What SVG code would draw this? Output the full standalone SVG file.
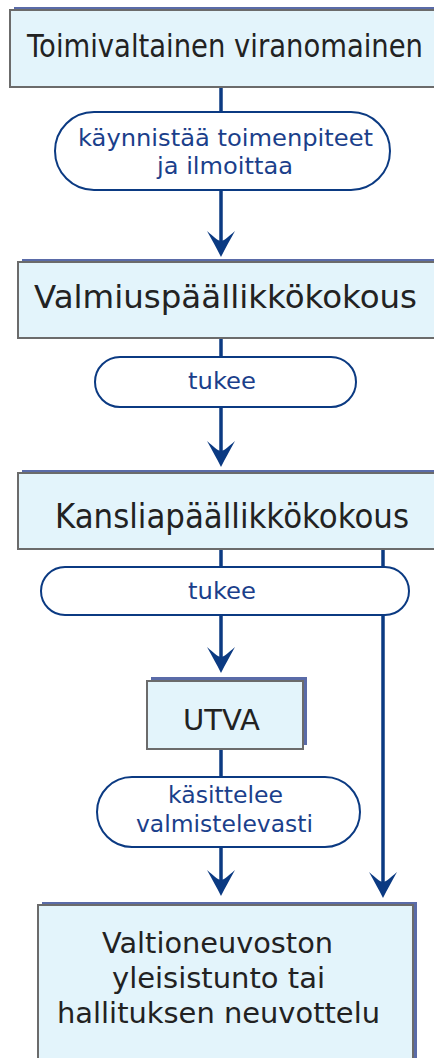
<svg xmlns="http://www.w3.org/2000/svg" width="434" height="1058" viewBox="0 0 434 1058">
<defs>
<style>
.shadow{fill:#5A6BA8;}
.box{fill:#E3F4FB;stroke:#6B6B6B;stroke-width:2;}
.pill{fill:#FFFFFF;stroke:#0B3A82;stroke-width:2;}
.conn{fill:none;stroke:#0B3A82;stroke-width:3.5;}
.bt{font-family:"DejaVu Sans",Verdana,sans-serif;fill:#222222;}
.pt{font-family:"DejaVu Sans",Verdana,sans-serif;fill:#1B3F8B;font-size:23px;}
</style>
<marker id="arr" markerUnits="userSpaceOnUse" viewBox="-27 -15 28 30" refX="-12" refY="0" markerWidth="28" markerHeight="30" orient="auto">
<path d="M0,0 C-8,-4 -17,-9 -26,-14 C-20,-7 -16,-3 -16,0 C-16,3 -20,7 -26,14 C-17,9 -8,4 0,0Z" fill="#0B3A82"/>
</marker>
</defs>
<rect width="434" height="1058" fill="#FFFFFF"/>
<g id="connectors">
<path class="conn" d="M221,87 V245" marker-end="url(#arr)"/>
<path class="conn" d="M221,338 V455" marker-end="url(#arr)"/>
<path class="conn" d="M221,549 V661" marker-end="url(#arr)"/>
<path class="conn" d="M221,749 V884" marker-end="url(#arr)"/>
<path class="conn" d="M383,549 V886" marker-end="url(#arr)"/>
</g>
<g id="node-toimivaltainen">
<rect class="shadow" x="14" y="7" width="440" height="77"/>
<rect class="box" x="10" y="10" width="440" height="77"/>
<g transform="translate(27,57) scale(1,1.18)">
<text class="bt" x="0" y="0" font-size="27" textLength="396" lengthAdjust="spacingAndGlyphs">Toimivaltainen viranomainen</text>
</g>
</g>
<g id="pill-kaynnistaa">
<rect class="pill" x="55" y="112" width="335" height="78" rx="39"/>
<text class="pt" x="78" y="146" textLength="295" lengthAdjust="spacingAndGlyphs">käynnistää toimenpiteet</text>
<text class="pt" x="157" y="174" textLength="136" lengthAdjust="spacingAndGlyphs">ja ilmoittaa</text>
</g>
<g id="node-valmius">
<rect class="shadow" x="22" y="259" width="440" height="76"/>
<rect class="box" x="18" y="262" width="440" height="76"/>
<text class="bt" x="34" y="308" font-size="32" textLength="383" lengthAdjust="spacingAndGlyphs">Valmiuspäällikkökokous</text>
</g>
<g id="pill-tukee1">
<rect class="pill" x="95" y="357" width="261" height="50" rx="25"/>
<text class="pt" x="188" y="389" textLength="68" lengthAdjust="spacingAndGlyphs">tukee</text>
</g>
<g id="node-kanslia">
<rect class="shadow" x="22" y="470" width="440" height="76"/>
<rect class="box" x="18" y="473" width="440" height="76"/>
<text class="bt" x="55" y="528" font-size="33" textLength="354" lengthAdjust="spacingAndGlyphs">Kansliapäällikkökokous</text>
</g>
<g id="pill-tukee2">
<rect class="pill" x="41" y="567" width="368" height="48" rx="24"/>
<text class="pt" x="188" y="599" textLength="68" lengthAdjust="spacingAndGlyphs">tukee</text>
</g>
<g id="node-utva">
<rect class="shadow" x="151" y="677" width="156" height="68"/>
<rect class="box" x="147" y="681" width="156" height="68"/>
<text class="bt" x="183" y="730" font-size="29" textLength="77" lengthAdjust="spacingAndGlyphs">UTVA</text>
</g>
<g id="pill-kasittelee">
<rect class="pill" x="97" y="777" width="263" height="70" rx="35"/>
<text class="pt" x="168" y="803" textLength="115" lengthAdjust="spacingAndGlyphs">käsittelee</text>
<text class="pt" x="136" y="832" textLength="177" lengthAdjust="spacingAndGlyphs">valmistelevasti</text>
</g>
<g id="node-valtioneuvosto">
<rect class="shadow" x="42" y="902" width="375" height="170"/>
<rect class="box" x="38" y="905" width="375" height="170"/>
<text class="bt" x="102" y="953" font-size="28" textLength="231" lengthAdjust="spacingAndGlyphs">Valtioneuvoston</text>
<text class="bt" x="112" y="988" font-size="28" textLength="213" lengthAdjust="spacingAndGlyphs">yleisistunto tai</text>
<text class="bt" x="57" y="1023" font-size="28" textLength="323" lengthAdjust="spacingAndGlyphs">hallituksen neuvottelu</text>
</g>
</svg>
